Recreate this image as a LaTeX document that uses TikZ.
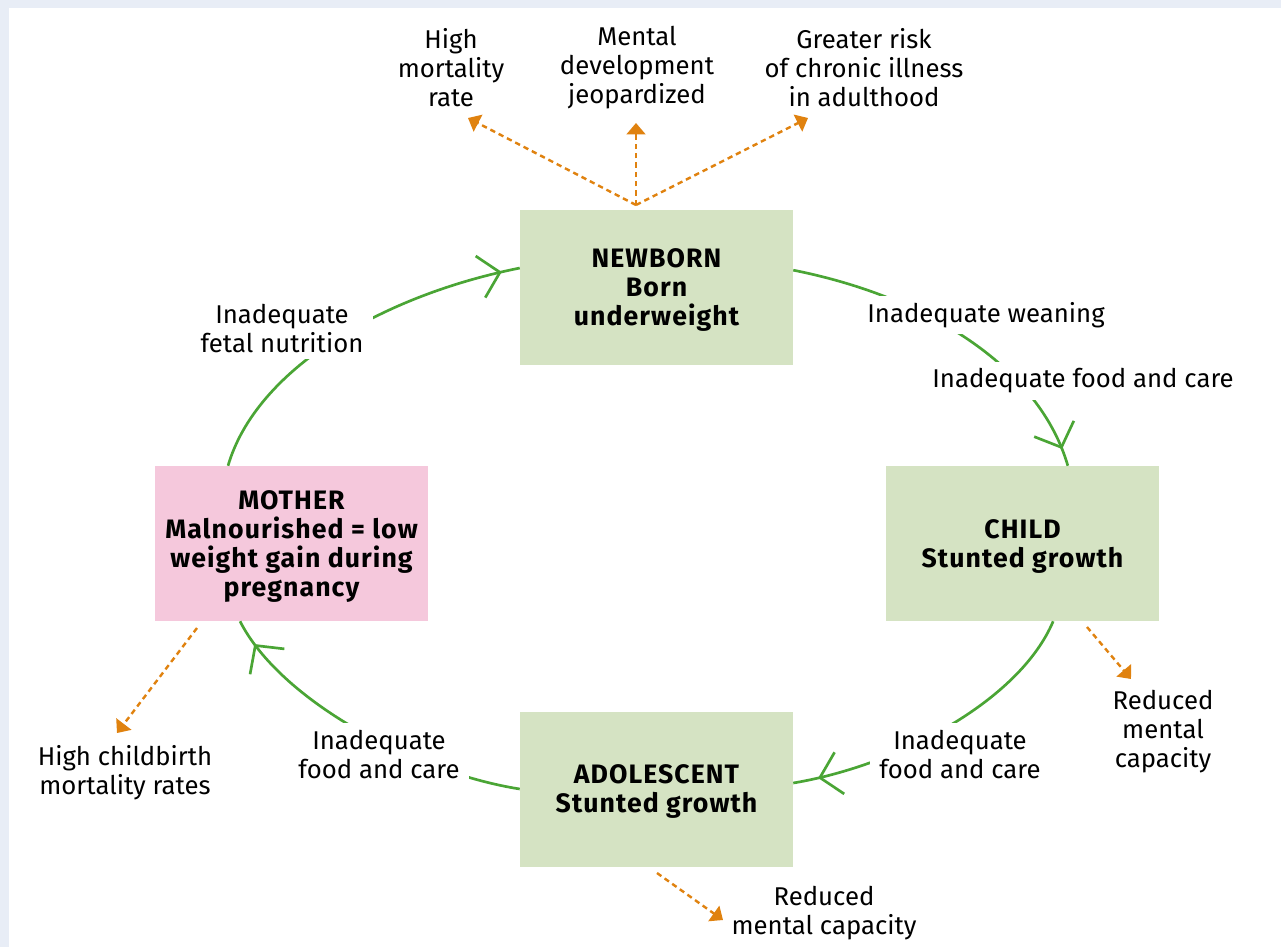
\documentclass[tikz,border=0pt]{standalone}
\usepackage{fontspec}
\setmainfont{Fira Sans}
\newfontfamily\boxfont{Fira Sans}[LetterSpace=4.0]
\usetikzlibrary{arrows.meta,decorations.markings}
\definecolor{bgblue}{HTML}{E8EDF6}
\definecolor{boxgreen}{HTML}{D5E3C3}
\definecolor{boxpink}{HTML}{F5C8DC}
\definecolor{arcgreen}{HTML}{4AA535}
\definecolor{dashorange}{HTML}{E0820F}
\begin{document}
\begin{tikzpicture}[x=0.75pt,y=-0.75pt,
  box/.style={minimum width=204.75pt, minimum height=116.25pt, inner sep=0pt, align=center,
    text depth=0pt, font=\boxfont\fontsize{20}{21.75}\selectfont\bfseries},
  lbl/.style={align=center, inner sep=1pt, font=\fontsize{19.3}{21.75}\selectfont},
  gaplbl/.style={lbl, fill=white, inner xsep=7pt, inner ysep=5pt},
  cyc/.style={draw=arcgreen, line width=2pt, postaction={decorate},
    decoration={markings, mark=at position #1 with {\arrow{Straight Barb[length=15pt,width=32pt,line width=2pt]}}}},
  oarrow/.style={draw=dashorange, line width=1.8pt, dash pattern=on 4pt off 3pt,
    -{Triangle[length=8.5pt,width=14pt]}, dashorange}
]
\useasboundingbox (0,0) rectangle (1281,947);
\fill[bgblue] (0,0) rectangle (1281,947);
\fill[white] (9,8) rectangle (1281,947);

% boxes
\node[box, fill=boxgreen] (newborn) at (656.5,287.5) {NEWBORN\\Born\\underweight};
\node[box, fill=boxgreen] (child) at (1022.5,543.5) {CHILD\\Stunted growth};
\node[box, fill=boxgreen] (adol) at (656.5,789) {ADOLESCENT\\Stunted growth};
\node[box, fill=boxpink] (mother) at (291.5,543.5) {MOTHER\\Malnourished = low\\weight gain during\\pregnancy};

% cycle arcs
\draw[cyc=0.95] ([xshift=-47.6pt]mother.north) .. controls (256,370) and (380,296) .. ([yshift=14.6pt]newborn.west);
\draw[cyc=0.95] ([yshift=13pt]newborn.east) .. controls (933,298) and (1040,370) .. ([xshift=34pt]child.north);
\draw[cyc=0.92] ([xshift=23pt]child.south) .. controls (1020,700) and (900,765) .. ([yshift=4.5pt]adol.east);
\draw[cyc=0.92] (adol.west) .. controls (413,772) and (280,700) .. ([xshift=-38.6pt]mother.south);

% labels on arcs
\node[gaplbl] (lFetal) at (282,328) {Inadequate\\fetal nutrition};
\node[gaplbl] (lWean) at (986,315) {Inadequate weaning};
\node[gaplbl] (lFoodC) at (1083,381) {Inadequate food and care};
\node[gaplbl] (lFoodA) at (960,754) {Inadequate\\food and care};
\node[gaplbl] (lFoodM) at (379,754) {Inadequate\\food and care};

% outcome labels
\node[lbl] (lHigh) at (451,68) {High\\mortality\\rate};
\node[lbl] (lMental) at (637,68) {Mental\\development\\jeopardized};
\node[lbl] (lGreater) at (864,68) {Greater risk\\of chronic illness\\in adulthood};
\node[lbl] (lRedC) at (1163,732) {Reduced\\mental\\capacity};
\node[lbl] (lHighC) at (125,773) {High childbirth\\mortality rates};
\node[lbl] (lRedA) at (824,913) {Reduced\\mental capacity};

% orange dashed arrows
\coordinate (nbtop) at (636,205);
\coordinate (tHigh) at (468,118);
\coordinate (tMental) at (636,123);
\coordinate (tGreater) at (808,118);
\coordinate (cFrom) at (1087,627);
\coordinate (tChild) at (1131,679);
\coordinate (mFrom) at (197,628);
\coordinate (tMother) at (117,733);
\coordinate (aFrom) at (657,873);
\coordinate (tAdol) at (723,920);
\draw[oarrow] (nbtop) -- (tHigh);
\draw[oarrow] (nbtop) -- (tMental);
\draw[oarrow] (nbtop) -- (tGreater);
\draw[oarrow] (cFrom) -- (tChild);
\draw[oarrow] (mFrom) -- (tMother);
\draw[oarrow] (aFrom) -- (tAdol);
\end{tikzpicture}
\end{document}
